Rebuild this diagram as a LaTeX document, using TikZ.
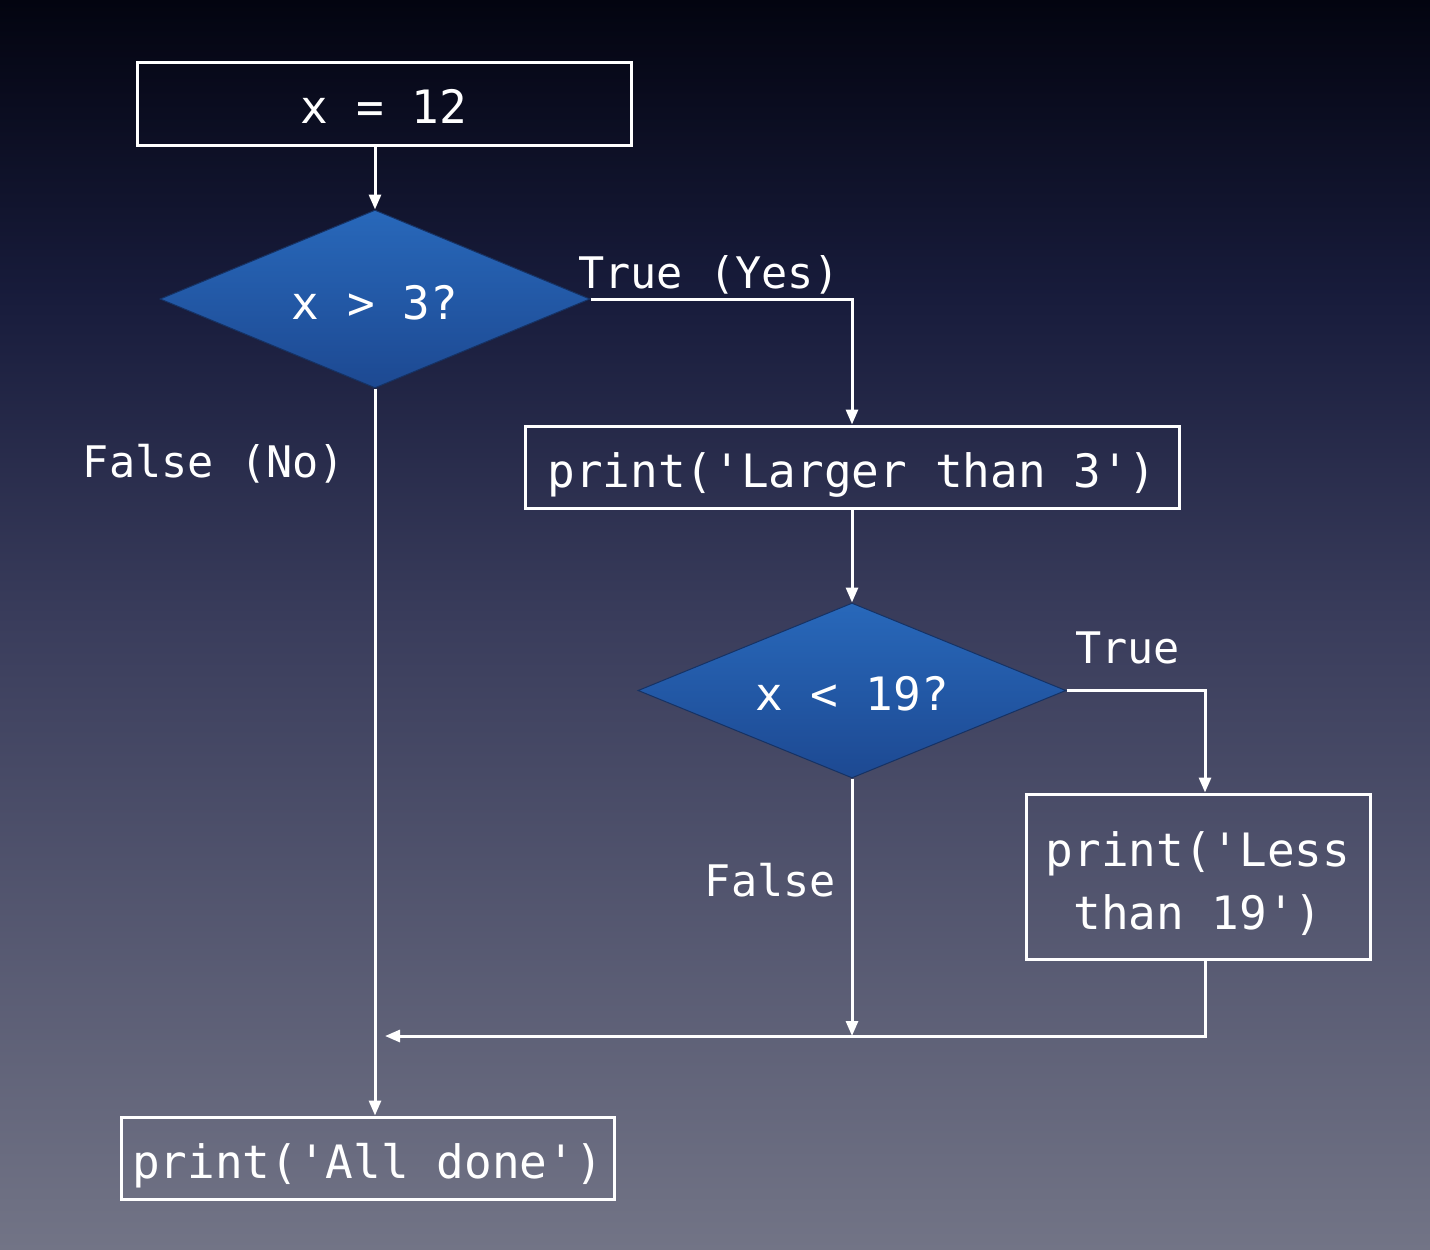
\documentclass[tikz,border=0pt]{standalone}
\usepackage{fontspec}
\setmonofont{DejaVu Sans Mono}
\usetikzlibrary{shapes.geometric,arrows.meta,calc}
\definecolor{bgtop}{RGB}{3,4,16}
\definecolor{bgup}{RGB}{24,28,60}
\definecolor{bgmid}{RGB}{58,61,92}
\definecolor{bgbot}{RGB}{114,116,134}
\definecolor{dtop}{RGB}{40,104,186}
\definecolor{dbot}{RGB}{29,73,146}
\definecolor{dedge}{RGB}{22,50,100}
\pgfdeclareverticalshading{bgshade}{100bp}{color(0bp)=(bgbot); color(25bp)=(bgbot); color(50bp)=(bgmid); color(63bp)=(bgup); color(75bp)=(bgtop); color(100bp)=(bgtop)}
\begin{document}
\begin{tikzpicture}[x=1pt,y=-1pt,
  txt/.style={font=\fontsize{46}{63}\selectfont\ttfamily, text=white, inner sep=0pt},
  procbox/.style={txt, draw=white, line width=3pt, text height=40pt, text depth=0pt},
  decision/.style={txt, diamond, aspect=2.4, inner sep=0pt, top color=dtop, bottom color=dbot, draw=dedge, line width=1pt, text height=40pt, text depth=0pt},
  lbl/.style={txt, font=\fontsize{43.5}{60}\selectfont\ttfamily},
  conn/.style={draw=white, line width=3pt, -{Triangle[length=15pt,width=12pt]}}]
\useasboundingbox (0,0) rectangle (1430,1250);
\shade[shading=bgshade] (0,0) rectangle (1430,1250);

\node[procbox, minimum width=494pt, minimum height=83pt] (b1) at (384,103.5) {x = 12};
\node[decision, minimum width=430pt, minimum height=178pt] (d1) at (375,299) {x > 3?};
\node[procbox, minimum width=654pt, minimum height=82pt] (b2) at (852,467) {print('Larger than 3')};
\node[decision, minimum width=428pt, minimum height=175pt] (d2) at (852,690.5) {x < 19?};
\node[txt, draw=white, line width=3pt, align=center, text height=105pt, text depth=0pt, minimum width=344pt, minimum height=165pt] (b3) at (1198,876.5) {print('Less\\than 19')};
\node[procbox, minimum width=493pt, minimum height=82pt] (b4) at (367.5,1158) {print('All done')};

\coordinate (join) at (375,1036);

\node[lbl, anchor=base west] (l1) at (578,288) {True (Yes)};
\node[lbl, anchor=base east] (l2) at (345,477) {False (No)};
\node[lbl, anchor=base west] (l3) at (1075,663) {True};
\node[lbl, anchor=base east] (l4) at (836,896) {False};

\draw[conn] (d1.north |- b1.south) -- (d1.north);
\draw[conn] (d1.east) -| (b2.north);
\draw[conn] (b2.south) -- (d2.north);
\draw[conn] (d2.east) -| ([xshift=7pt]b3.north);
\draw[conn] (d2.south) -- (d2.south |- join);
\draw[conn] ([xshift=7pt]b3.south) |- ([xshift=10pt]join);
\draw[conn] (d1.south) -- (d1.south |- b4.north);
\end{tikzpicture}
\end{document}
